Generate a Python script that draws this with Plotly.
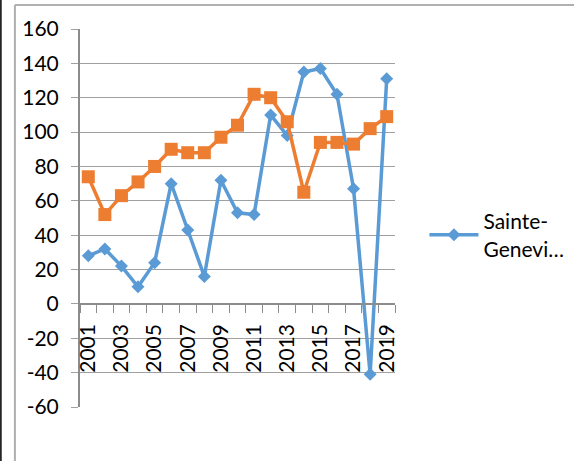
import plotly.graph_objects as go

years = list(range(2001, 2020))
sainte_genevieve = [28, 32, 22, 10, 24, 70, 43, 16, 72, 53, 52, 110, 98, 135, 137, 122, 67, -41, 131]
second_series = [74, 52, 63, 71, 80, 90, 88, 88, 97, 104, 122, 120, 106, 65, 94, 94, 93, 102, 109]
x_tick_vals = [2001, 2003, 2005, 2007, 2009, 2011, 2013, 2015, 2017, 2019]
x_tick_text = [str(v) for v in x_tick_vals]
y_ticks = [-60, -40, -20, 0, 20, 40, 60, 80, 100, 120, 140, 160]
y_tick_text = [str(v) for v in y_ticks]  # plain hyphen minus, as in the reference

W, H = 574, 461
L, R, T, B = 80, 394.6, 29, 407  # plot area in pixels

def px_x(p):
    return (p - L) / (R - L)

def px_y(p):
    return (B - p) / (B - T)

BLUE = "#5B9BD5"
ORANGE = "#ED7D31"
FONT = "Lato, Carlito, Calibri, sans-serif"

fig = go.Figure()
fig.add_trace(go.Scatter(
    x=years, y=sainte_genevieve, mode="lines+markers",
    name="Sainte-<br>Genevi…",
    line=dict(color=BLUE, width=3.5),
    marker=dict(symbol="diamond", size=10, color=BLUE),
))
fig.add_trace(go.Scatter(
    x=years, y=second_series, mode="lines+markers",
    name="", showlegend=False,
    line=dict(color=ORANGE, width=3.5),
    marker=dict(symbol="square", size=13, color=ORANGE),
))

zero_pos = (0 - y_ticks[0]) / (y_ticks[-1] - y_ticks[0])

fig.update_layout(
    width=W, height=H,
    margin=dict(l=L, r=W - R, t=T, b=H - B, pad=0, autoexpand=False),
    paper_bgcolor="white", plot_bgcolor="white",
    font=dict(family=FONT, size=21, color="#000000"),
    showlegend=True,
    legend=dict(
        x=px_x(424), y=px_y(235), xanchor="left", yanchor="middle",
        font=dict(family=FONT, size=21, color="#000000"),
        itemwidth=49, bgcolor="rgba(0,0,0,0)", borderwidth=0,
    ),
    xaxis=dict(
        range=[2000.5, 2019.5], anchor="free", position=zero_pos,
        automargin=False,
        showgrid=False, zeroline=False,
        showline=True, linecolor="#8c8c8c", linewidth=1.5,
        tickmode="array", tickvals=x_tick_vals, ticktext=x_tick_text,
        tickangle=-90, ticks="outside", ticklen=8, tickcolor="rgba(0,0,0,0)",
        ticklabelstandoff=3,
        tickfont=dict(family=FONT, size=21, color="#000000"),
        minor=dict(tickmode="array", tickvals=[y + 0.5 for y in range(2000, 2020)],
                   ticks="outside", ticklen=8, tickcolor="#8c8c8c", tickwidth=1.3,
                   showgrid=False),
    ),
    yaxis=dict(
        range=[y_ticks[0], y_ticks[-1]], tickmode="array",
        tickvals=y_ticks, ticktext=y_tick_text,
        automargin=False,
        showgrid=True, gridcolor="#a0a0a0", gridwidth=1.3,
        zeroline=False,
        showline=True, linecolor="#8c8c8c", linewidth=2,
        ticks="outside", ticklen=7, tickcolor="#a0a0a0", tickwidth=1.3,
        ticklabelstandoff=8,
        tickfont=dict(family=FONT, size=21, color="#000000"),
    ),
    shapes=[
        # outer chart frame (grey), extends beyond the visible window
        dict(type="line", xref="paper", yref="paper",
             x0=px_x(15), x1=px_x(600), y0=px_y(5), y1=px_y(5),
             line=dict(color="#b0b0b0", width=2), layer="below"),
        dict(type="line", xref="paper", yref="paper",
             x0=px_x(15), x1=px_x(15), y0=px_y(5), y1=px_y(480),
             line=dict(color="#b0b0b0", width=2), layer="below"),
        # black edge at far left
        dict(type="line", xref="paper", yref="paper",
             x0=px_x(1), x1=px_x(1), y0=px_y(-10), y1=px_y(480),
             line=dict(color="#000000", width=1.5), layer="below"),
    ],
)

fig.write_html(
    "out.html",
    config={"displayModeBar": False},
    post_script="document.body.style.margin='0';document.body.style.overflow='hidden';",
)
